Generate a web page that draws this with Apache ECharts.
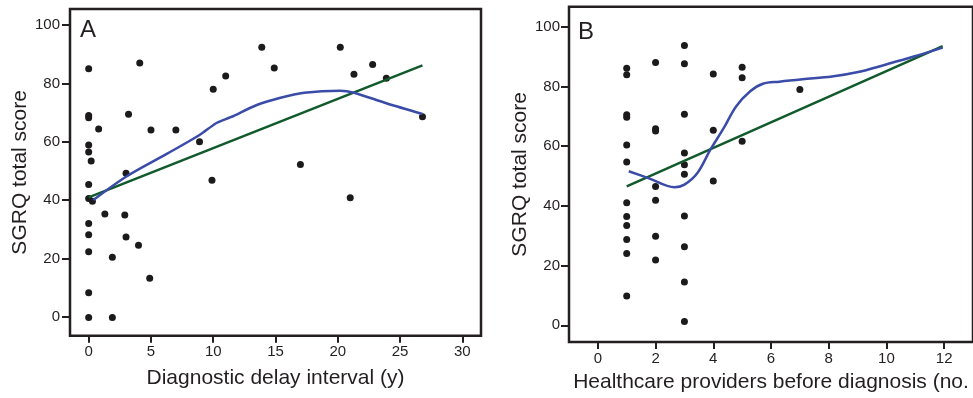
<!DOCTYPE html>
<html>
<head>
<meta charset="utf-8">
<title>SGRQ vs diagnostic delay</title>
<script src="https://cdn.jsdelivr.net/npm/echarts@6/dist/echarts.min.js"></script>
<style>
  html, body { margin: 0; padding: 0; background: #fff; }
  #chart { width: 973px; height: 398px; }
</style>
</head>
<body>
<div id="chart"></div>
<script>
// tick labels
const delayTicks = [0, 5, 10, 15, 20, 25, 30];
const providerTicks = [0, 2, 4, 6, 8, 10, 12];
const scoreTicks = [0, 20, 40, 60, 80, 100];

// panel A: [delay (y), SGRQ]
const delayPoints = [
  [0, 85], [4.1, 87], [10, 78], [0, 69], [0, 68.2], [3.2, 69.4], [0.8, 64.4],
  [5, 64], [7, 64], [8.9, 60], [0, 58.9], [0, 56.5], [0.2, 53.4], [3, 49.2],
  [9.9, 46.8], [0, 45.3], [0, 40.5], [0.3, 39.6], [1.3, 35.2], [2.9, 34.9],
  [0, 32], [0, 28.1], [3, 27.3], [4, 24.5], [0, 22.3], [1.9, 20.4], [4.9, 13.2],
  [0, 8.2], [0, -0.3], [1.9, -0.3], [11, 82.5], [13.9, 92.4], [14.9, 85.3],
  [17, 52.2], [20.2, 92.4], [21.3, 83.1], [22.8, 86.5], [23.9, 81.8],
  [21, 40.8], [26.8, 68.6]
];
const delayFit = [[0, 40.9], [26.8, 86.2]];
const delayLoess = [
  [0.37, 40], [3, 48], [6.3, 55.9], [8.9, 62.3], [10.3, 66.5], [11.4, 68.4],
  [13.5, 72.6], [15.4, 75.1], [17.3, 76.8], [20.2, 77.5], [21.3, 76.8],
  [23.9, 73.2], [26.8, 69.5]
];

// panel B: [providers (no.), SGRQ]
const providerPoints = [
  [1, 86.1], [1, 83.9], [1, 70.5], [1, 69.7], [1, 60.4], [1, 54.7], [1, 41],
  [1, 36.4], [1, 33.4], [1, 28.7], [1, 24], [1, 9.8],
  [2, 88], [2, 65.8], [2, 65.1], [2, 46.5], [2, 41.9], [2, 29.8], [2, 21.9],
  [3, 93.7], [3, 87.6], [3, 70.7], [3, 57.7], [3, 53.8], [3, 50.6], [3, 36.6],
  [3, 26.3], [3, 14.5], [3, 1.3],
  [4, 84.2], [4, 65.3], [4, 48.3],
  [5, 86.4], [5, 82.9], [5, 61.6],
  [7, 79]
];
const providerFit = [[1, 46.5], [11.95, 93.5]];
const providerLoess = [
  [1.07, 51.6], [1.75, 49.3], [2.66, 46.2], [3.0, 47.1], [3.45, 51], [3.9, 58.8],
  [4.36, 66], [4.79, 73.3], [5.27, 78.3], [5.72, 80.9], [6.29, 81.6], [7.09, 82.4],
  [8.11, 83.3], [9.02, 84.8], [9.93, 87.2], [10.95, 90], [11.95, 93]
];

const ink = '#231f20';
const font = 'Liberation Sans, Arial, sans-serif';

function xAxisFor(idx, min, max, ticks, name, gap) {
  return {
    type: 'value', gridIndex: idx, min: min, max: max,
    name: name, nameLocation: 'middle', nameGap: gap,
    nameTextStyle: { fontSize: 21, color: ink, fontFamily: font },
    axisLine: { show: false, onZero: false },
    axisTick: { show: true, length: 7, customValues: ticks, lineStyle: { color: ink, width: 2 } },
    axisLabel: { customValues: ticks, margin: 9, fontSize: 15, color: ink, fontFamily: font },
    splitLine: { show: false }
  };
}

function yAxisFor(idx, min, max, gap, margin) {
  return {
    type: 'value', gridIndex: idx, min: min, max: max,
    name: 'SGRQ total score', nameLocation: 'middle', nameGap: gap,
    nameTextStyle: { fontSize: 21, color: ink, fontFamily: font },
    axisLine: { show: false, onZero: false },
    axisTick: { show: true, length: 8, customValues: scoreTicks, lineStyle: { color: ink, width: 2 } },
    axisLabel: { customValues: scoreTicks, margin: margin, fontSize: 15, color: ink, fontFamily: font },
    splitLine: { show: false }
  };
}

const chart = echarts.init(document.getElementById('chart'), null, { renderer: 'canvas' });

const option = {
  animation: false,
  backgroundColor: '#fff',
  title: [
    { text: 'A', left: 80, top: 18, padding: 0, textStyle: { fontSize: 24, fontWeight: 'normal', color: ink, fontFamily: font } },
    { text: 'B', left: 578, top: 20, padding: 0, textStyle: { fontSize: 24, fontWeight: 'normal', color: ink, fontFamily: font } }
  ],
  grid: [
    { left: 70, top: 9, width: 411, height: 326.7, show: true, borderColor: ink, borderWidth: 2.5, backgroundColor: 'transparent' },
    { left: 569, top: 6.7, width: 411, height: 336.1, show: true, borderColor: ink, borderWidth: 2.5, backgroundColor: 'transparent' }
  ],
  xAxis: [
    xAxisFor(0, -1.5, 31.5, delayTicks, 'Diagnostic delay interval (y)', 32),
    xAxisFor(1, -1, 13, providerTicks, 'Healthcare providers before diagnosis (no.', 30)
  ],
  yAxis: [
    yAxisFor(0, -6.5, 105.5, 37, 10),
    yAxisFor(1, -5.6, 106.7, 36, 9)
  ],
  series: [
    {
      name: 'A linear', type: 'line', xAxisIndex: 0, yAxisIndex: 0, data: delayFit,
      showSymbol: false, symbol: 'none', lineStyle: { color: '#115a2b', width: 2.5 }
    },
    {
      name: 'A loess', type: 'line', xAxisIndex: 0, yAxisIndex: 0, data: delayLoess,
      smooth: 0.3, showSymbol: false, symbol: 'none', lineStyle: { color: '#3a4ca8', width: 2.5 }
    },
    {
      name: 'A points', type: 'scatter', xAxisIndex: 0, yAxisIndex: 0, data: delayPoints,
      symbolSize: 7, itemStyle: { color: '#1c1a1b', opacity: 1 }
    },
    {
      name: 'B linear', type: 'line', xAxisIndex: 1, yAxisIndex: 1, data: providerFit,
      showSymbol: false, symbol: 'none', lineStyle: { color: '#115a2b', width: 2.5 }
    },
    {
      name: 'B loess', type: 'line', xAxisIndex: 1, yAxisIndex: 1, data: providerLoess,
      smooth: 0.35, showSymbol: false, symbol: 'none', lineStyle: { color: '#3a4ca8', width: 2.5 }
    },
    {
      name: 'B points', type: 'scatter', xAxisIndex: 1, yAxisIndex: 1, data: providerPoints,
      symbolSize: 7, itemStyle: { color: '#1c1a1b', opacity: 1 }
    }
  ]
};

chart.setOption(option);
</script>
</body>
</html>
